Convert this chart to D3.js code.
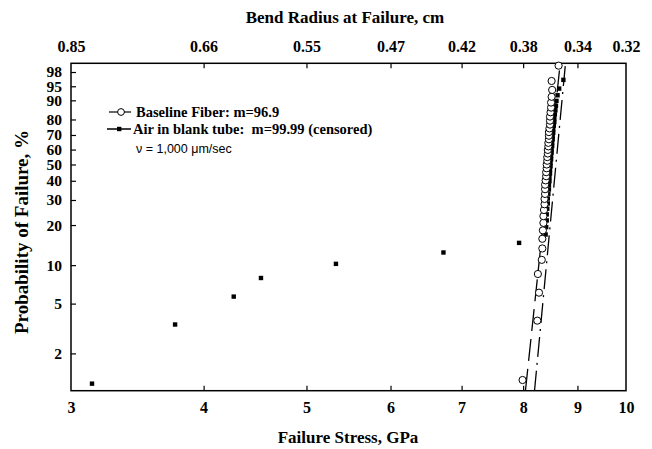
<!DOCTYPE html>
<html><head><meta charset="utf-8">
<script src="https://cdn.jsdelivr.net/npm/d3@7"></script>
<style>
html,body{margin:0;padding:0;background:#fff;}
svg{display:block;}
</style>
</head><body>
<svg id="c" width="652" height="449"></svg>
<script>
// ---- data ----
const xTicks = [3, 4, 5, 6, 7, 8, 9, 10];
const topLabels = ["0.85", "0.66", "0.55", "0.47", "0.42", "0.38", "0.34", "0.32"];
const yTicks = [2, 5, 10, 20, 30, 40, 50, 60, 70, 80, 90, 95, 98];

// Baseline Fiber (open circles): stress GPa, probability %
const baseStress = [7.99, 8.25, 8.28, 8.26, 8.33, 8.34, 8.34, 8.35, 8.36, 8.36,
  8.37, 8.38, 8.38, 8.39, 8.39, 8.39, 8.40, 8.41, 8.41, 8.42,
  8.42, 8.43, 8.43, 8.44, 8.44, 8.45, 8.45, 8.46, 8.46, 8.46,
  8.47, 8.48, 8.48, 8.48, 8.49, 8.50, 8.50, 8.51, 8.52, 8.51, 8.64];
const baseProb = [1.22, 3.66, 6.10, 8.54, 10.98, 13.41, 15.85, 18.29, 20.73, 23.17,
  25.61, 28.05, 30.49, 32.93, 35.37, 37.80, 40.24, 42.68, 45.12, 47.56,
  50.00, 52.44, 54.88, 57.32, 59.76, 62.20, 64.63, 67.07, 69.51, 71.95,
  74.39, 76.83, 79.27, 81.71, 84.15, 86.59, 89.02, 91.46, 93.90, 96.34, 98.78];

// Air in blank tube (filled squares)
const airStress = [3.14, 3.76, 4.27, 4.53, 5.33, 6.73, 7.93,
  8.40, 8.41, 8.42, 8.42, 8.43, 8.44, 8.44, 8.45, 8.46, 8.46, 8.47, 8.47,
  8.48, 8.48, 8.49, 8.49, 8.50, 8.50, 8.51, 8.51, 8.52, 8.52, 8.53, 8.53,
  8.54, 8.54, 8.55, 8.56, 8.56, 8.57, 8.58, 8.59, 8.60, 8.62, 8.65, 8.73];
const airProb = [1.14, 3.41, 5.68, 7.95, 10.23, 12.50, 14.77,
  17.05, 19.32, 21.59, 23.86, 26.14, 28.41, 30.68, 32.95, 35.23, 37.50, 39.77, 42.05,
  44.32, 46.59, 48.86, 51.14, 53.41, 55.68, 57.95, 60.23, 62.50, 64.77, 67.05, 69.32,
  71.59, 73.86, 76.14, 78.41, 80.68, 82.95, 85.23, 87.50, 89.77, 92.05, 94.32, 96.59];

// Weibull fit lines (endpoints)
const baseFitStress = [8.04, 8.67];
const baseFitProb = [1, 99];
const airFitStress = [8.20, 8.77];
const airFitProb = [1, 99];

// ---- chart ----
const svg = d3.select("#c");
const L = 71, R = 626, T = 63.3, B = 390.7;
const serif = "'Liberation Serif','Times New Roman',serif";

const x = d3.scaleLog().domain([3, 10]).range([L, R]);
const W = p => Math.log(-Math.log(1 - p / 100));
const yLin = d3.scaleLinear().domain([W(1), W(99)]).range([B, T]);
const y = p => yLin(W(p));

// bottom axis
const gB = svg.append("g").attr("transform", `translate(0,${B})`)
  .call(d3.axisBottom(x).tickValues(xTicks).tickFormat(d3.format("d"))
    .tickSizeInner(-5).tickSizeOuter(0).tickPadding(11));
gB.selectAll(".tick line").filter(d => d === 3 || d === 10).remove();

// top axis
const gT = svg.append("g").attr("transform", `translate(0,${T})`)
  .call(d3.axisTop(x).tickValues(xTicks).tickFormat((d, i) => topLabels[i])
    .tickSizeInner(-5).tickSizeOuter(0).tickPadding(11));
gT.selectAll(".tick line").filter(d => d === 3 || d === 10).remove();

// left axis
const gL = svg.append("g").attr("transform", `translate(${L},0)`)
  .call(d3.axisLeft(yLin).tickValues(yTicks.map(W))
    .tickFormat((d, i) => yTicks[i]).tickSizeInner(-5).tickSizeOuter(0).tickPadding(9));

[gB, gT, gL].forEach(g => {
  g.select(".domain").remove();
  g.selectAll(".tick line").attr("stroke", "#000").attr("stroke-width", 1.2);
  g.selectAll(".tick text").attr("font-family", serif).attr("font-weight", "bold")
    .attr("font-size", 16).attr("fill", "#000");
});
gL.selectAll(".tick text").attr("font-size", 15.5);

// frame
svg.append("rect").attr("x", L).attr("y", T).attr("width", R - L).attr("height", B - T)
  .attr("fill", "none").attr("stroke", "#000").attr("stroke-width", 1.5);

// titles
svg.append("text").attr("x", 345).attr("y", 23).attr("text-anchor", "middle")
  .attr("font-family", serif).attr("font-weight", "bold").attr("font-size", 17)
  .text("Bend Radius at Failure, cm");
svg.append("text").attr("x", 348).attr("y", 443).attr("text-anchor", "middle")
  .attr("font-family", serif).attr("font-weight", "bold").attr("font-size", 17)
  .text("Failure Stress, GPa");
svg.append("text").attr("transform", "translate(28,232) rotate(-90)").attr("text-anchor", "middle")
  .attr("font-family", serif).attr("font-weight", "bold").attr("font-size", 19)
  .text("Probability of Failure, %");

// fit lines
const line = d3.line().x(d => x(d[0])).y(d => y(d[1]));
svg.append("path").datum(baseFitStress.map((s, i) => [s, baseFitProb[i]]))
  .attr("d", line).attr("fill", "none").attr("stroke", "#000").attr("stroke-width", 1.3)
  .attr("stroke-dasharray", "22,8");
svg.append("path").datum(airFitStress.map((s, i) => [s, airFitProb[i]]))
  .attr("d", line).attr("fill", "none").attr("stroke", "#000").attr("stroke-width", 1.3)
  .attr("stroke-dasharray", "20,6,2,6");

// points
svg.append("g").selectAll("rect").data(airStress.map((s, i) => [s, airProb[i]])).join("rect")
  .attr("x", d => x(d[0]) - 2.2).attr("y", d => y(d[1]) - 2.2)
  .attr("width", 4.4).attr("height", 4.4).attr("fill", "#000");
svg.append("g").selectAll("circle").data(baseStress.map((s, i) => [s, baseProb[i]])).join("circle")
  .attr("cx", d => x(d[0])).attr("cy", d => y(d[1])).attr("r", 3.6)
  .attr("fill", "#fff").attr("stroke", "#000").attr("stroke-width", 1);

// legend
const lg = svg.append("g");
lg.append("line").attr("x1", 109).attr("x2", 131).attr("y1", 112).attr("y2", 112)
  .attr("stroke", "#000").attr("stroke-width", 1.2);
lg.append("circle").attr("cx", 121).attr("cy", 112).attr("r", 3.4)
  .attr("fill", "#fff").attr("stroke", "#000");
lg.append("text").attr("x", 136).attr("y", 117).attr("font-family", serif)
  .attr("font-weight", "bold").attr("font-size", 14.5).text("Baseline Fiber: m=96.9");
lg.append("line").attr("x1", 107).attr("x2", 131).attr("y1", 129).attr("y2", 129)
  .attr("stroke", "#000").attr("stroke-width", 1.5);
lg.append("rect").attr("x", 117).attr("y", 126.8).attr("width", 4.4).attr("height", 4.4).attr("fill", "#000");
lg.append("text").attr("x", 133).attr("y", 134).attr("font-family", serif)
  .attr("font-weight", "bold").attr("font-size", 14.5).style("white-space", "pre")
  .text("Air in blank tube:  m=99.99 (censored)");
lg.append("text").attr("x", 136).attr("y", 153).attr("font-family", "'Liberation Sans',Arial,sans-serif")
  .attr("font-size", 12.5).text("ν = 1,000 μm/sec");
</script>
</body></html>
